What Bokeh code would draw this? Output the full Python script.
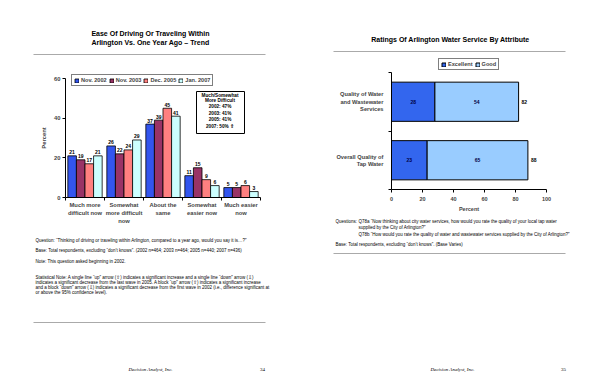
from bokeh.plotting import figure
from bokeh.models import (Range1d, FixedTicker, Legend, LegendItem, Label, LabelSet,
                          ColumnDataSource, BoxAnnotation, LinearAxis)
from bokeh.core.properties import value
from bokeh.embed import file_html
from bokeh.resources import INLINE

# ---------------- data: left page ----------------
drive_categories = ["Much more\ndifficult now", "Somewhat\nmore difficult\nnow",
                    "About the\nsame", "Somewhat\neasier now", "Much easier\nnow"]
drive_series = ["Nov. 2002", "Nov. 2003", "Dec. 2005", "Jan. 2007"]
nov_2002 = [21, 26, 37, 11, 5]
nov_2003 = [19, 22, 39, 15, 5]
dec_2005 = [17, 24, 45, 9, 6]
jan_2007 = [21, 29, 41, 6, 3]
drive_y_ticks = [0, 20, 40, 60]
difficult_box = ["Much/Somewhat", "More Difficult", "2002: 47%", "2003: 41%",
                 "2005: 41%", "2007: 50% \u21e7"]

# ---------------- data: right page ----------------
water_attributes = ["Quality of Water\nand Wastewater\nServices",
                    "Overall Quality of\nTap Water"]
water_series = ["Excellent", "Good"]
excellent = [28, 23]
good = [54, 65]
water_x_ticks = [0, 20, 40, 60, 80, 100]

SANS = "Liberation Sans"
SERIF = "Liberation Serif"
W, H = 600, 388
NOTE = 4.5


def span_range(d0, d1, p0, p1, total, flip=False):
    """Range whose scale puts data d0 at pixel p0 and d1 at pixel p1."""
    if flip:
        p0, p1 = total - p0, total - p1
    k = (p1 - p0) / (d1 - d0)
    return Range1d(d0 - p0 / k, d0 + (total - p0) / k)


p = figure(width=W, height=H, output_backend="svg", toolbar_location=None,
           x_range=Range1d(0, W), y_range=Range1d(H, 0),
           x_axis_location=None, y_axis_location=None, min_border=0)
p.outline_line_color = None
p.grid.visible = False
p.background_fill_color = "white"
p.border_fill_color = "white"

n = len(drive_categories)
m = len(water_attributes)
p.extra_x_ranges = {"lx": span_range(-0.5, n - 0.5, 65, 260, W),
                    "rx": span_range(0, 100, 391, 546, W)}
p.extra_y_ranges = {"ly": span_range(0, 60, 197, 78, H, flip=True),
                    "ry": span_range(-0.5, m - 0.5, 189, 72, H, flip=True)}


def put(X, Y, text, size, style="normal", align="left", font=SANS, color="black"):
    p.add_layout(Label(x=X, y=Y, text=text, text_font=font, text_font_size=f"{size}px",
                       text_font_style=style, text_align=align,
                       text_baseline="middle", text_color=color))


def rule(X1, X2, Y):
    p.segment(x0=[X1], y0=[Y], x1=[X2], y1=[Y], line_color="#aaaaaa", line_width=1.2)


def style_axis(ax, size, line_height=1.2):
    ax.major_label_text_font = SANS
    ax.major_label_text_font_size = f"{size}px"
    ax.major_label_text_font_style = "bold"
    ax.major_label_text_line_height = line_height
    ax.axis_label_text_font = SANS
    ax.axis_label_text_font_size = f"{size}px"
    ax.axis_label_text_font_style = "bold"
    ax.axis_line_color = "black"
    ax.major_tick_line_color = "black"
    ax.minor_tick_line_color = "black"


# ================= LEFT CHART =================
ax1 = LinearAxis(x_range_name="lx", y_range_name="ly", fixed_location=0,
                 bounds=(-0.5, n - 0.5),
                 ticker=FixedTicker(ticks=list(range(n)),
                                    minor_ticks=[i - 0.5 for i in range(n + 1)]))
ax1.major_label_overrides = {i: c for i, c in enumerate(drive_categories)}
ax1.major_tick_out = 0
ax1.major_tick_in = 0
ax1.minor_tick_out = 3
ax1.minor_tick_in = 0
ax1.major_label_standoff = 1
style_axis(ax1, 5.8, 1.4)
p.add_layout(ax1, "below")

ay1 = LinearAxis(x_range_name="lx", y_range_name="ly", fixed_location=-0.5,
                 bounds=(0, 60), ticker=FixedTicker(ticks=drive_y_ticks))
ay1.major_tick_out = 3
ay1.major_tick_in = 0
ay1.minor_tick_out = 0
ay1.major_label_standoff = 2
ay1.axis_label = "Percent"
ay1.axis_label_standoff = 4
style_axis(ay1, 5.8)
p.add_layout(ay1, "left")

offsets = [-0.33, -0.11, 0.11, 0.33]
bar_w = 0.22
colors = ["#3355EE", "#993366", "#FF8080", "#CCFFFF"]
series_vals = [nov_2002, nov_2003, dec_2005, jan_2007]
items = []
for k, (name, vals, col) in enumerate(zip(drive_series, series_vals, colors)):
    src = ColumnDataSource(dict(x=[i + offsets[k] for i in range(n)], top=vals,
                                lab=[str(v) for v in vals]))
    r = p.vbar(x="x", top="top", bottom=0, width=bar_w, source=src,
               x_range_name="lx", y_range_name="ly",
               fill_color=col, line_color="black", line_width=0.8)
    items.append(LegendItem(label=name, renderers=[r]))
    p.add_layout(LabelSet(x="x", y="top", text="lab", source=src, y_offset=1.5,
                          x_range_name="lx", y_range_name="ly",
                          text_align="center", text_baseline="bottom",
                          text_font=value(SANS), text_font_size="5px",
                          text_font_style="bold", text_color="black"))

# legend location = bottom-left corner, pixels from the canvas bottom-left
leg1 = Legend(items=items, orientation="horizontal", location=(71, H - 86),
              border_line_color="black", border_line_width=1,
              background_fill_color="white", background_fill_alpha=1,
              padding=2, spacing=2, margin=0, glyph_width=5, glyph_height=5,
              label_standoff=2, label_height=5, label_width=10,
              label_text_font=SANS, label_text_font_size="5.6px",
              label_text_font_style="bold")
p.add_layout(leg1)

# "Much/Somewhat More Difficult" box
p.add_layout(BoxAnnotation(left=196, right=244, top=91, bottom=133,
                           fill_color="white", fill_alpha=1,
                           line_color="black", line_width=1, line_alpha=1))
for txt, Y in zip(difficult_box, [94.5, 100, 106, 112.5, 119, 125.5]):
    put(219.5, Y, txt, 4.7, "bold", "center")

# ================= RIGHT CHART =================
ypos = [m - 1 - i for i in range(m)]
totals = [e + g for e, g in zip(excellent, good)]
src2 = ColumnDataSource(dict(
    y=ypos, exc=excellent, tot=totals,
    exc_mid=[e / 2 for e in excellent],
    good_mid=[e + g / 2 for e, g in zip(excellent, good)],
    exc_lab=[str(v) for v in excellent], good_lab=[str(v) for v in good],
    tot_lab=[str(v) for v in totals]))
r_exc = p.hbar(y="y", left=0, right="exc", height=0.67, source=src2,
               x_range_name="rx", y_range_name="ry",
               fill_color="#3366EE", line_color="black", line_width=1)
r_good = p.hbar(y="y", left="exc", right="tot", height=0.67, source=src2,
                x_range_name="rx", y_range_name="ry",
                fill_color="#99CCFF", line_color="black", line_width=1)
for xf, tf in [("exc_mid", "exc_lab"), ("good_mid", "good_lab")]:
    p.add_layout(LabelSet(x=xf, y="y", text=tf, source=src2, text_align="center",
                          x_range_name="rx", y_range_name="ry",
                          text_baseline="middle", text_font=value(SANS),
                          text_font_size="5px", text_font_style="bold",
                          text_color="#000044"))
p.add_layout(LabelSet(x="tot", y="y", text="tot_lab", source=src2, x_offset=3,
                      x_range_name="rx", y_range_name="ry",
                      text_align="left", text_baseline="middle", text_font=value(SANS),
                      text_font_size="5px", text_font_style="bold", text_color="black"))

ax2 = LinearAxis(x_range_name="rx", y_range_name="ry", fixed_location=-0.5,
                 bounds=(0, 100), ticker=FixedTicker(ticks=water_x_ticks))
ax2.major_tick_out = 3
ax2.major_tick_in = 0
ax2.minor_tick_out = 0
ax2.major_label_standoff = 4
ax2.axis_label = "Percent"
ax2.axis_label_standoff = 2
style_axis(ax2, 5.5)
p.add_layout(ax2, "below")

ay2 = LinearAxis(x_range_name="rx", y_range_name="ry", fixed_location=0,
                 bounds=(-0.5, m - 0.5),
                 ticker=FixedTicker(ticks=ypos, minor_ticks=[i - 0.5 for i in range(m + 1)]))
ay2.major_label_overrides = {yy: a for yy, a in zip(ypos, water_attributes)}
ay2.major_tick_out = 0
ay2.major_tick_in = 0
ay2.minor_tick_out = 3
ay2.minor_tick_in = 0
ay2.major_label_standoff = 5
style_axis(ay2, 5.7, 1.25)
p.add_layout(ay2, "left")

leg2 = Legend(items=[LegendItem(label=water_series[0], renderers=[r_exc]),
                     LegendItem(label=water_series[1], renderers=[r_good])],
              orientation="horizontal", location=(438, H - 70),
              border_line_color="black", border_line_width=1,
              background_fill_color="white", background_fill_alpha=1,
              padding=2, spacing=2, margin=0, glyph_width=5, glyph_height=5,
              label_standoff=2, label_height=5, label_width=10,
              label_text_font=SANS, label_text_font_size="5.6px",
              label_text_font_style="bold")
p.add_layout(leg2)

# ================= PAGE TEXTS =================
put(150, 33, "Ease Of Driving Or Traveling Within", 7, "bold", "center")
put(150, 42, "Arlington Vs. One Year Ago \u2013 Trend", 7, "bold", "center")
rule(33, 265, 54)
put(35, 240, "Question:  \u201cThinking of driving or traveling within Arlington, compared to a year ago, would you say it is\u2026?\u201d", NOTE)
put(35, 250, "Base:  Total respondents, excluding \u201cdon\u2019t knows\u201d.  (2002 n=464; 2003 n=464; 2005 n=440; 2007 n=436)", NOTE)
put(35, 261, "Note: This question asked beginning in 2002.", NOTE)
stat_lines = [
    "Statistical Note:   A single line \u201cup\u201d arrow (\u21e7) indicates a significant increase and a single line \u201cdown\u201d arrow (\u21e9)",
    "indicates a significant decrease from the last wave in 2005.  A block \u201cup\u201d arrow (\u21e7) indicates a significant increase",
    "and a block \u201cdown\u201d arrow (\u21e9) indicates a significant decrease from the first wave in 2002 (i.e., difference significant at",
    "or above the 95% confidence level).",
]
for txt, Y in zip(stat_lines, [277, 282, 287, 292]):
    put(35, Y, txt, NOTE)
rule(33, 265, 322)
put(150, 369, "Decision Analyst, Inc.", 5, "italic", "center", SERIF)
put(262, 369, "34", 5, "normal", "center", SERIF)

put(450, 39, "Ratings Of Arlington Water Service By Attribute", 7, "bold", "center")
rule(333, 565, 51)
put(335, 221, "Questions:", NOTE)
put(358, 221, "Q78a \u201cNow thinking about city water services, how would you rate the quality of your local tap water", NOTE)
put(358, 227, "supplied by the City of Arlington?\u201d", NOTE)
put(358, 233.5, "Q78b \u201cHow would you rate the quality of water and wastewater services supplied by the City of Arlington?\u201d", NOTE)
put(335, 243.5, "Base:  Total respondents, excluding \u201cdon\u2019t knows\u201d.  (Base Varies)", NOTE)
rule(333, 565, 253)
put(452, 369, "Decision Analyst, Inc.", 5, "italic", "center", SERIF)
put(563, 369, "35", 5, "normal", "center", SERIF)

open("out.html", "w").write(file_html(p, INLINE))
